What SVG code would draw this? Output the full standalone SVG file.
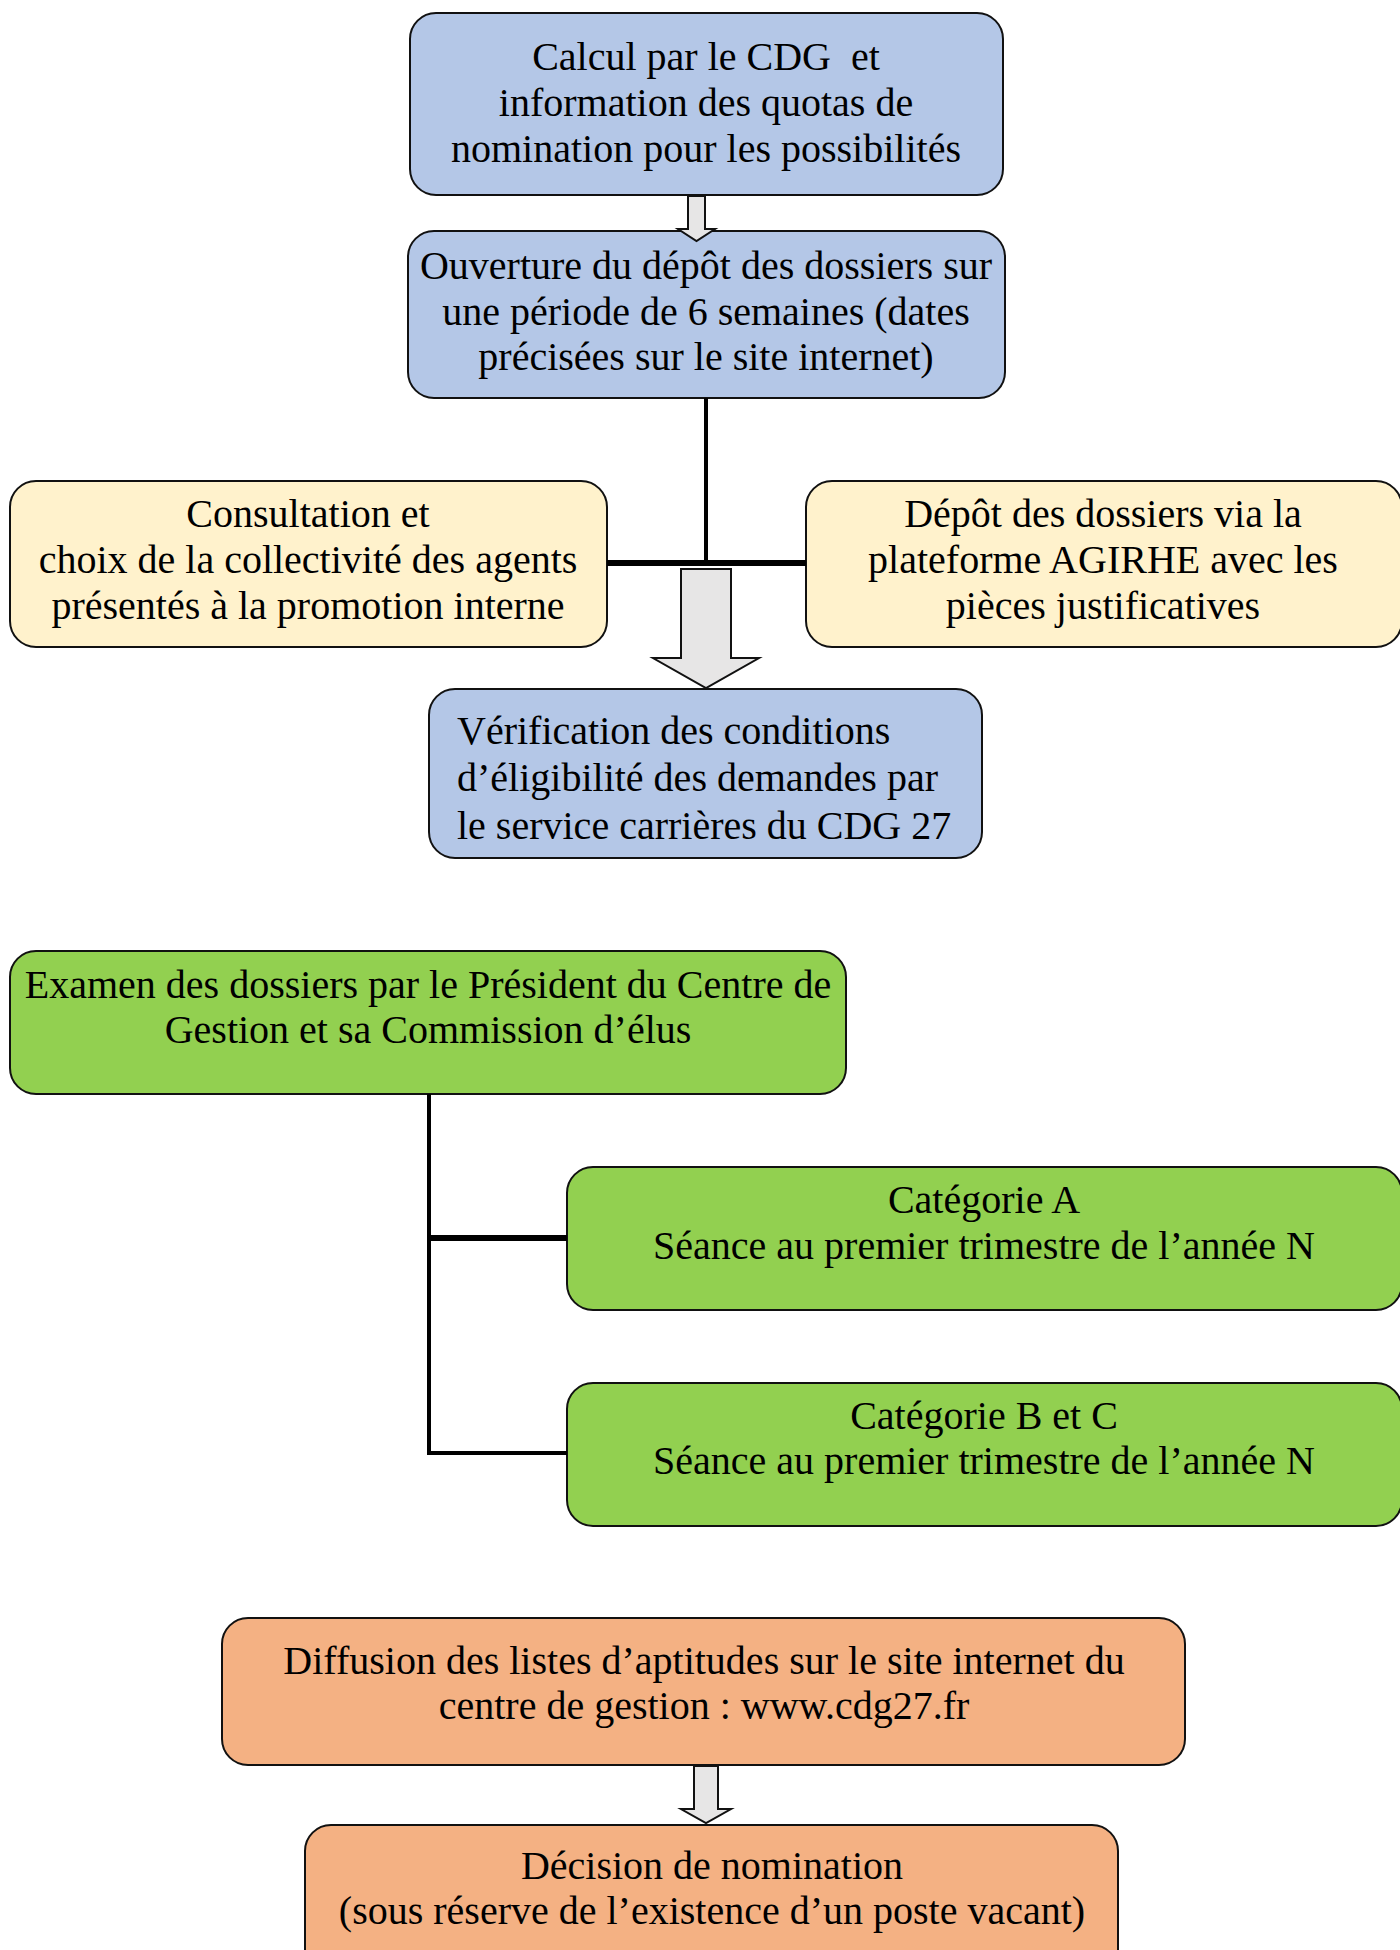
<svg xmlns="http://www.w3.org/2000/svg" width="1400" height="1950" viewBox="0 0 1400 1950">
<style>
.box{stroke:#111;stroke-width:2}
.blue{fill:#B4C7E7}
.yellow{fill:#FFF2CC}
.green{fill:#92D050}
.orange{fill:#F4B183}
text{font-family:"Liberation Serif","Times New Roman",serif;font-size:40px;fill:#000;white-space:pre}
.c{text-anchor:middle}
.line{stroke:#000;fill:none}
.barrow{fill:#E7E6E6;stroke:#111;stroke-width:2;stroke-linejoin:miter}
</style>
<rect width="1400" height="1950" fill="#fff"/>
<g id="node-calcul">
<rect class="box blue" x="410" y="13" width="593" height="182" rx="26"/>
<text class="c" x="706" y="70" xml:space="preserve">Calcul par le CDG  et</text>
<text class="c" x="706" y="116">information des quotas de</text>
<text class="c" x="706" y="162">nomination pour les possibilités</text>
</g>
<g id="node-ouverture">
<rect class="box blue" x="408" y="231" width="597" height="167" rx="26"/>
<text class="c" x="706" y="279">Ouverture du dépôt des dossiers sur</text>
<text class="c" x="706" y="325">une période de 6 semaines (dates</text>
<text class="c" x="706" y="370">précisées sur le site internet)</text>
</g>
<g id="node-consultation">
<rect class="box yellow" x="10" y="481" width="597" height="166" rx="26"/>
<text class="c" x="308" y="527">Consultation et</text>
<text class="c" x="308" y="573">choix de la collectivité des agents</text>
<text class="c" x="308" y="619">présentés à la promotion interne</text>
</g>
<g id="node-depot">
<rect class="box yellow" x="806" y="481" width="596" height="166" rx="26"/>
<text class="c" x="1103" y="527">Dépôt des dossiers via la</text>
<text class="c" x="1103" y="573">plateforme AGIRHE avec les</text>
<text class="c" x="1103" y="619">pièces justificatives</text>
</g>
<g id="node-verification">
<rect class="box blue" x="429" y="689" width="553" height="169" rx="26"/>
<text x="457" y="744">Vérification des conditions</text>
<text x="457" y="791">d’éligibilité des demandes par</text>
<text x="457" y="839">le service carrières du CDG 27</text>
</g>
<g id="node-examen">
<rect class="box green" x="10" y="951" width="836" height="143" rx="26"/>
<text class="c" x="428" y="998">Examen des dossiers par le Président du Centre de</text>
<text class="c" x="428" y="1043">Gestion et sa Commission d’élus</text>
</g>
<g id="node-categorie-a">
<rect class="box green" x="567" y="1167" width="835" height="143" rx="26"/>
<text class="c" x="984" y="1213">Catégorie A</text>
<text class="c" x="984" y="1259">Séance au premier trimestre de l’année N</text>
</g>
<g id="node-categorie-bc">
<rect class="box green" x="567" y="1383" width="835" height="143" rx="26"/>
<text class="c" x="984" y="1429">Catégorie B et C</text>
<text class="c" x="984" y="1474">Séance au premier trimestre de l’année N</text>
</g>
<g id="node-diffusion">
<rect class="box orange" x="222" y="1618" width="963" height="147" rx="26"/>
<text class="c" x="704" y="1674">Diffusion des listes d’aptitudes sur le site internet du</text>
<text class="c" x="704" y="1719">centre de gestion : www.cdg27.fr</text>
</g>
<g id="node-decision">
<rect class="box orange" x="305" y="1825" width="813" height="160" rx="26"/>
<text class="c" x="712" y="1879">Décision de nomination</text>
<text class="c" x="712" y="1924">(sous réserve de l’existence d’un poste vacant)</text>
</g>
<g id="connectors">
<polygon class="barrow" points="688,196 705,196 705,229 715,229 696.5,241 678,229 688,229"/>
<line class="line" x1="706" y1="398" x2="706" y2="565" stroke-width="4"/>
<line class="line" x1="607" y1="563" x2="806" y2="563" stroke-width="6"/>
<polygon class="barrow" points="681,569 731,569 731,658 759,658 706,688 653,658 681,658"/>
<polyline class="line" points="429,1094 429,1453 567,1453" stroke-width="4"/>
<line class="line" x1="429" y1="1238" x2="567" y2="1238" stroke-width="6"/>
<polygon class="barrow" points="694,1766 718,1766 718,1809 731,1809 706,1823 681,1809 694,1809"/>
</g>
</svg>
